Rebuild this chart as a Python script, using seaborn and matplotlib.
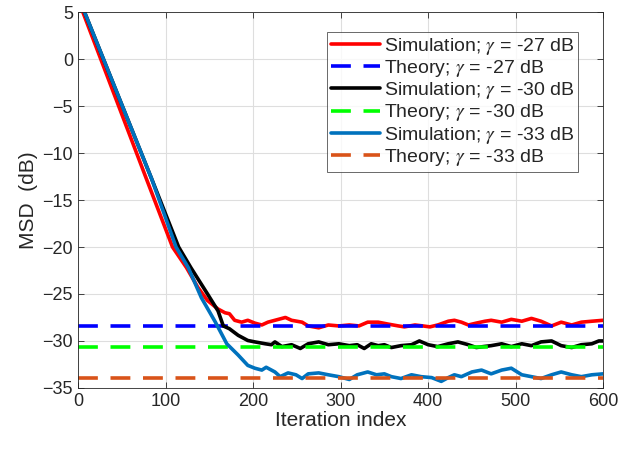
import numpy as np
import matplotlib
matplotlib.use('Agg')
import matplotlib.pyplot as plt
import seaborn as sns

# iteration index / MSD (dB)
red_it = [5.6, 78, 108, 124, 137, 148, 160, 168, 173, 179, 187, 194, 202, 210, 217,
          225, 237, 244, 256, 263, 275, 286, 298, 310, 321, 331, 343, 354, 366, 373, 385, 394,
          402, 411, 423, 430, 438, 446, 455, 465, 472, 484, 495, 507, 518, 529, 541, 552, 564,
          575, 587, 600]
red_db = [5.0, -12.7, -20.0, -22.2, -24.3, -25.7, -26.6, -27.0, -27.1, -27.8,
          -28.0, -27.8, -28.1, -28.3, -28.0, -27.8, -27.5, -27.8, -28.0, -28.4, -28.6, -28.3,
          -28.4, -28.3, -28.4, -28.0, -28.0, -28.2, -28.4, -28.5, -28.3, -28.4, -28.5, -28.3,
          -27.9, -27.8, -28.0, -28.3, -28.1, -27.9, -27.8, -28.0, -27.7, -27.9, -27.6, -27.9,
          -28.4, -28.0, -28.3, -28.0, -27.9, -27.8]

blk_it = [7.5, 84, 115, 129, 148, 160, 166, 173, 183, 194, 202, 214, 221, 225, 233, 244,
          254, 263, 275, 286, 298, 310, 319, 327, 335, 343, 350, 358, 369, 381, 390, 400, 411,
          423, 434, 446, 455, 463, 472, 484, 495, 507, 518, 529, 541, 552, 564, 575, 587, 595,
          600]
blk_db = [5.0, -12.7, -20.0, -22.2, -25.0, -26.8, -28.4, -28.7, -29.4, -29.95, -30.1,
          -30.3, -30.4, -30.1, -30.6, -30.4, -30.8, -30.3, -30.1, -30.4, -30.3, -30.5, -30.4,
          -30.8, -30.3, -30.5, -30.4, -30.7, -30.5, -30.4, -30.0, -30.4, -30.6, -30.3, -30.1,
          -30.4, -30.7, -30.6, -30.5, -30.3, -30.6, -30.3, -30.5, -30.1, -30.0, -30.5, -30.7,
          -30.4, -30.3, -30.0, -30.0]

blu_it = [7.5, 84, 112, 126, 141, 157, 170, 183, 187, 194, 202, 210, 215, 225, 231,
          240, 249, 256, 263, 275, 286, 298, 310, 319, 331, 341, 350, 358, 369, 381, 392, 404,
          415, 423, 430, 438, 450, 461, 472, 484, 495, 507, 518, 529, 541, 552, 564, 575, 587,
          600]
blu_db = [5.0, -12.7, -20.0, -22.2, -25.4, -28.0, -30.3, -31.5, -31.9, -32.6,
          -32.9, -33.1, -32.8, -33.3, -33.8, -33.4, -33.6, -34.0, -33.5, -33.4, -33.6, -33.8,
          -34.1, -33.6, -33.3, -33.6, -33.5, -33.8, -34.0, -33.6, -33.8, -33.9, -34.3, -33.9,
          -33.6, -33.8, -33.3, -33.1, -33.5, -33.1, -32.9, -33.6, -33.8, -34.0, -33.6, -33.3,
          -33.6, -33.8, -33.6, -33.5]

gammas = ['-27', '-30', '-33']
theory_db = [-28.4, -30.6, -33.9]

sim_colors = ['#ff0000', '#000000', '#0072bd']
th_colors = ['#0000ff', '#00ff00', '#d95319']

sns.set_theme(style='ticks')
plt.rcParams['font.family'] = ['Liberation Sans', 'DejaVu Sans']
plt.rcParams['mathtext.fontset'] = 'stix'

fig = plt.figure(figsize=(6.39, 4.49), dpi=100)
ax = fig.add_axes([0.122, 0.136, 0.822, 0.837])

sims = [(red_it, red_db), (blk_it, blk_db), (blu_it, blu_db)]
for k in range(3):
    it, db = sims[k]
    sns.lineplot(x=it, y=db, ax=ax, color=sim_colors[k], lw=2.6, sort=False,
                 label=f'Simulation; $\\gamma$ = {gammas[k]} dB')
    sns.lineplot(x=[0, 600], y=[theory_db[k], theory_db[k]], ax=ax, color=th_colors[k],
                 lw=2.6, label=f'Theory; $\\gamma$ = {gammas[k]} dB')
    ax.lines[-1].set_dashes((5.5, 3.5))

ax.set_xlim(0, 600)
ax.set_ylim(-35, 5)
ax.set_xticks(np.arange(0, 601, 100))
ax.set_yticks(np.arange(-35, 6, 5))
ax.grid(True, color='#dedede', lw=0.8)
ax.tick_params(direction='in', top=True, right=True, labelsize=13, colors='#262626',
               length=4, width=0.6)
for s in ax.spines.values():
    s.set_color('#262626')
    s.set_linewidth(0.6)
ax.set_xlabel('Iteration index', fontsize=15, color='#262626', labelpad=1)
ax.set_ylabel('MSD  (dB)', fontsize=15, color='#262626', labelpad=3)

leg = ax.legend(loc='upper right', bbox_to_anchor=(0.952, 0.947), fontsize=14,
                frameon=True, fancybox=False, borderaxespad=0, handlelength=2.5,
                handletextpad=0.2, labelspacing=0.06, borderpad=0.2)
leg.get_frame().set_edgecolor('#262626')
leg.get_frame().set_linewidth(0.6)

fig.savefig('out.png', dpi=100)
